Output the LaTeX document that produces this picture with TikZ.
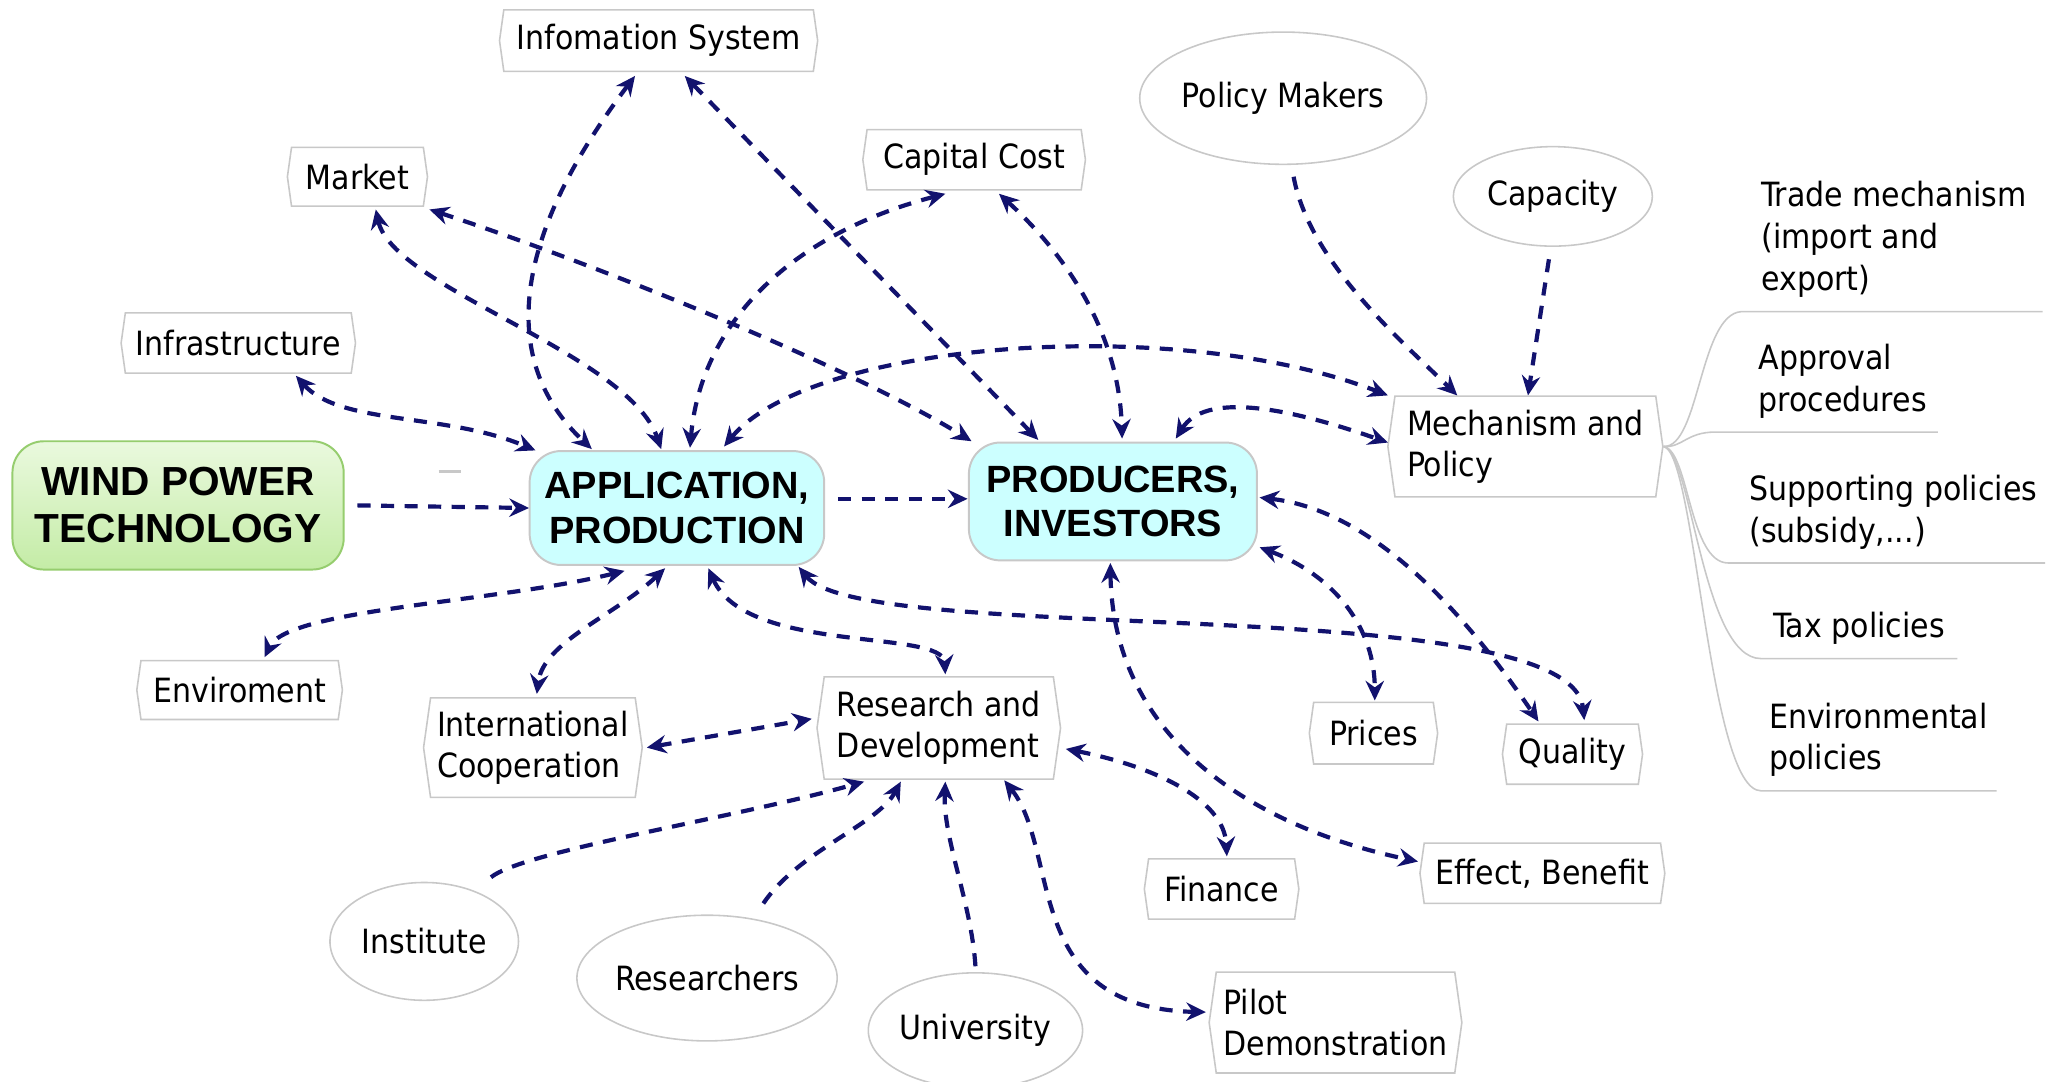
\documentclass[tikz,border=0pt]{standalone}
\usepackage{fontspec}
\setmainfont{DejaVu Sans Condensed}
\newfontfamily\titlefont{Liberation Sans}
\usetikzlibrary{arrows.meta,shapes.symbols,shapes.geometric,calc}
\definecolor{arrowblue}{RGB}{18,18,110}
\definecolor{boxgray}{RGB}{200,200,200}
\definecolor{appcyan}{RGB}{204,255,255}
\definecolor{greentop}{RGB}{234,249,222}
\definecolor{greenbot}{RGB}{196,236,166}
\definecolor{greenedge}{RGB}{150,205,110}
\tikzset{
  lab/.style={font=\fontsize{25.5}{31.5}\selectfont, text=black},
  sbox/.style={lab, signal, signal to=east and west, signal from=nowhere,
    signal pointer angle=164, draw=boxgray, line width=1.2pt, fill=white,
    inner sep=0pt, align=left},
  ell/.style={lab, ellipse, draw=boxgray, line width=1.2pt, fill=white, inner sep=0pt},
  mainbox/.style={rectangle, rounded corners=24pt, draw=boxgray, line width=1.5pt,
    align=center, inner sep=0pt},
  conn/.style={draw=arrowblue, line width=3.2pt, dash pattern=on 10pt off 8pt},
  both/.style={conn, {Stealth[length=15pt,width=14pt,inset=5pt]}-{Stealth[length=15pt,width=14pt,inset=5pt]}},
  one/.style={conn, -{Stealth[length=15pt,width=14pt,inset=5pt]}},
  tree/.style={draw=boxgray, line width=1.2pt},
  sidetxt/.style={lab, anchor=west, align=left, inner sep=0pt, font=\fontsize{25.5}{32}\selectfont},
}
\begin{document}
\begin{tikzpicture}[x=1pt,y=-1pt]
\useasboundingbox (0,0) rectangle (1568,826);
\fill[white] (0,0) rectangle (1568,826);

% main nodes
\node[mainbox, top color=greentop, bottom color=greenbot, draw=greenedge,
  minimum width=253, minimum height=98,
  font=\titlefont\bfseries\fontsize{31}{36}\selectfont] (wind) at (136,386) {WIND POWER\\TECHNOLOGY};
\node[mainbox, fill=appcyan, minimum width=225, minimum height=87,
  font=\titlefont\bfseries\fontsize{29}{34}\selectfont] (app) at (517,388) {APPLICATION,\\PRODUCTION};
\node[mainbox, fill=appcyan, minimum width=220, minimum height=90,
  font=\titlefont\bfseries\fontsize{29}{34}\selectfont] (prod) at (850,383) {PRODUCERS,\\INVESTORS};

% boxes
\node[sbox, minimum width=243, minimum height=47] (info) at (503,31) {Infomation System};
\node[sbox, minimum width=107, minimum height=45] (market) at (273,135) {Market};
\node[sbox, minimum width=170, minimum height=46] (cap) at (744,122) {Capital Cost};
\node[sbox, minimum width=179, minimum height=46] (infra) at (182,262) {Infrastructure};
\node[sbox, minimum width=210, minimum height=77] (mech) at (1165,341) {Mechanism and\\Policy};
\node[sbox, minimum width=157, minimum height=45] (env) at (183,527) {Enviroment};
\node[sbox, minimum width=167, minimum height=76] (intc) at (407,571) {International\\Cooperation};
\node[sbox, minimum width=186, minimum height=78] (rd) at (717,556) {Research and\\Development};
\node[sbox, minimum width=98, minimum height=47] (prices) at (1049,560) {Prices};
\node[sbox, minimum width=107, minimum height=46] (quality) at (1201,576) {Quality};
\node[sbox, minimum width=118, minimum height=46] (finance) at (933,679) {Finance};
\node[sbox, minimum width=187, minimum height=46] (effect) at (1178,667) {Effect, Benefit};
\node[sbox, minimum width=193, minimum height=77] (pilot) at (1020,781) {Pilot\\Demonstration};

% ellipses
\node[ell, minimum width=205, minimum height=101] (pm) at (980,75) {Policy Makers};
\node[ell, minimum width=152, minimum height=76] (capa) at (1186,150) {Capacity};
\node[ell, minimum width=144, minimum height=90] (inst) at (324,719) {Institute};
\node[ell, minimum width=190, minimum height=96] (resr) at (540,747) {Researchers};
\node[ell, minimum width=160, minimum height=88] (univ) at (745,787) {University};

% side list
\node[sidetxt] (trade) at (1345,183) {Trade mechanism\\(import and\\export)};
\node[sidetxt] (approval) at (1343,291) {Approval\\procedures};
\node[sidetxt] (support) at (1336,391) {Supporting policies\\(subsidy,...)};
\node[sidetxt] (tax) at (1354,480) {Tax policies};
\node[sidetxt] (envpol) at (1351,565) {Environmental\\policies};

\coordinate (tradeL) at (1330,238); \coordinate (tradeR) at (1560,238);
\coordinate (apprL) at (1310,330); \coordinate (apprR) at (1480,330);
\coordinate (suppL) at (1320,430); \coordinate (suppR) at (1562,430);
\coordinate (taxL) at (1345,503); \coordinate (taxR) at (1495,503);
\coordinate (envL) at (1345,604); \coordinate (envR) at (1525,604);

\draw[tree] (mech.east) .. controls (1298,342) and (1298,240) .. (tradeL) -- (tradeR);
\draw[tree] (mech.east) .. controls (1285,342) and (1288,330) .. (apprL) -- (apprR);
\draw[tree] (mech.east) .. controls (1290,344) and (1290,430) .. (suppL) -- (suppR);
\draw[tree] (mech.east) .. controls (1292,345) and (1300,503) .. (taxL) -- (taxR);
\draw[tree] (mech.east) .. controls (1295,345) and (1305,604) .. (envL) -- (envR);

% small grey mark
\draw[boxgray, line width=2pt] (335,360) -- (352,360);

% connectors
\draw[one] ($(wind)+(137,0)$) -- ($(app)+(-113,0)$);
\draw[one] ($(app)+(123,-7)$) -- ($(prod)+(-111,-2)$);
\draw[both] ($(infra)+(44,25)$) .. controls (260,325) and (340,315) .. ($(app)+(-108,-44)$);
\draw[both] ($(market)+(14,25)$) .. controls (300,220) and (480,270) .. ($(app)+(-12,-45)$);
\draw[both] ($(market)+(55,25)$) .. controls (450,200) and (650,280) .. ($(prod)+(-108,-46)$);
\draw[both] ($(info)+(-18,27)$) .. controls (385,190) and (385,280) .. ($(app)+(-65,-45)$);
\draw[both] ($(info)+(20,27)$) -- ($(prod)+(-57,-47)$);
\draw[both] ($(cap)+(-22,26)$) .. controls (600,180) and (535,250) .. ($(app)+(10,-46)$);
\draw[both] ($(cap)+(19,26)$) .. controls (820,200) and (855,260) .. ($(prod)+(7,-48)$);
\draw[both] ($(app)+(36,-47)$) .. controls (620,260) and (900,240) .. ($(mech)+(-105,-39)$);
\draw[both] ($(prod)+(48,-48)$) .. controls (920,300) and (980,310) .. ($(mech)+(-105,-3)$);
\draw[one] ($(pm)+(8,60)$) .. controls (1000,200) and (1070,260) .. ($(mech)+(-52,-39)$);
\draw[one] ($(capa)+(-3,48)$) -- ($(mech)+(2,-39)$);
\draw[both] ($(app)+(-40,48)$) .. controls (380,460) and (220,465) .. ($(env)+(19,-25)$);
\draw[both] ($(app)+(-9,46)$) .. controls (470,470) and (415,490) .. ($(intc)+(3,-41)$);
\draw[both] ($(app)+(24,46)$) .. controls (570,500) and (720,480) .. ($(rd)+(5,-41)$);
\draw[both] ($(app)+(93,45)$) .. controls (660,495) and (1200,450) .. ($(quality)+(9,-26)$);
\draw[both] ($(prod)+(112,35)$) .. controls (1020,440) and (1050,480) .. ($(prices)+(1,-25)$);
\draw[both] ($(prod)+(112,-3)$) .. controls (1050,390) and (1120,470) .. ($(quality)+(-26,-25)$);
\draw[both] ($(prod)+(-2,47)$) .. controls (850,560) and (950,630) .. ($(effect)+(-95,-9)$);
\draw[both] ($(intc)+(87,0)$) -- ($(rd)+(-97,-7)$);
\draw[both] ($(rd)+(97,16)$) .. controls (880,585) and (935,610) .. ($(finance)+(4,-25)$);
\draw[one] ($(inst)+(51,-49)$) .. controls (400,650) and (560,625) .. ($(rd)+(-57,41)$);
\draw[one] ($(resr)+(43,-57)$) .. controls (610,650) and (670,630) .. ($(rd)+(-29,41)$);
\draw[one] ($(univ)+(0,-49)$) .. controls (742,690) and (720,640) .. ($(rd)+(5,41)$);
\draw[both] ($(rd)+(50,40)$) .. controls (810,650) and (780,770) .. ($(pilot)+(-99,-8)$);
\end{tikzpicture}
\end{document}
